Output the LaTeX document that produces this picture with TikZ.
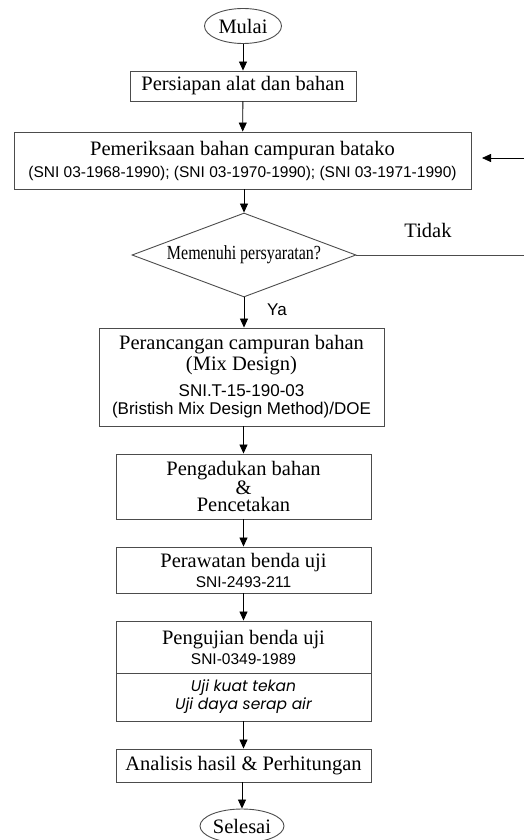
\documentclass[tikz,border=0pt]{standalone}
\usepackage{fontspec}
\setmainfont{Liberation Serif}
\newfontfamily\sansf{Liberation Sans}
\newfontfamily\condf[FakeStretch=0.8]{Liberation Serif}
\newfontfamily\gothf{Poppins}
\usetikzlibrary{shapes.geometric,arrows.meta}
\begin{document}
\begin{tikzpicture}[x=1pt,y=-1pt,
  boxc/.style={draw=black!70,line width=0.9pt,rectangle,inner sep=0pt,align=center,
    font=\fontsize{20.5}{21}\selectfont},
  term/.style={draw=black!70,line width=0.9pt,ellipse,inner sep=0pt,
    font=\fontsize{20.5}{21}\selectfont},
  flow/.style={draw=black,line width=0.8pt,-{Triangle[length=9pt,width=8pt]}},
  plain/.style={draw=black!70,line width=0.9pt}]
\useasboundingbox (0,0) rectangle (524,840);

\node[term,minimum width=77pt,minimum height=35pt] (mulai) at (243,26) {Mulai};
\node[boxc,minimum width=226pt,minimum height=30pt] (siap) at (243,86) {Persiapan alat dan bahan};
\node[boxc,minimum width=457pt,minimum height=57pt,font=\fontsize{20.5}{22}\selectfont] (periksa) at (242.5,160.5)
  {Pemeriksaan bahan campuran batako\\{\sansf\fontsize{15.5}{18}\selectfont (SNI 03-1968-1990); (SNI 03-1970-1990); (SNI 03-1971-1990)}};
\node[diamond,draw=black!70,line width=0.9pt,inner sep=0pt,minimum width=224pt,minimum height=84pt,
  shape aspect=2.6,font=\condf\fontsize{20}{21}\selectfont] (syarat) at (244,255) {Memenuhi persyaratan?};
\node[boxc,minimum width=285pt,minimum height=98pt] (rancang) at (241.5,377)
  {Perancangan campuran bahan\\(Mix Design)\\[5pt]{\sansf\fontsize{17}{18}\selectfont SNI.T-15-190-03}\\[-3pt]{\sansf\fontsize{17}{18}\selectfont (Bristish Mix Design Method)/DOE}};
\node[boxc,minimum width=255pt,minimum height=65pt,font=\fontsize{20.5}{17}\selectfont] (aduk) at (243.5,486.5)
  {Pengadukan bahan\\\&\\Pencetakan};
\node[boxc,minimum width=255pt,minimum height=46pt,font=\fontsize{20.5}{20}\selectfont] (rawat) at (243.5,570)
  {Perawatan benda uji\\{\sansf\fontsize{15.5}{18}\selectfont SNI-2493-211}};
\node[boxc,minimum width=255pt,minimum height=52pt,font=\fontsize{20.5}{20}\selectfont] (uji) at (243.5,647)
  {Pengujian benda uji\\{\sansf\fontsize{15.5}{18}\selectfont SNI-0349-1989}};
\node[boxc,minimum width=255pt,minimum height=48pt,font=\gothf\itshape\fontsize{15.5}{18}\selectfont] (ujib) at (243.5,697)
  {Uji kuat tekan\\Uji daya serap air};
\node[boxc,minimum width=255pt,minimum height=33pt] (analisis) at (243.5,765.5) {Analisis hasil \& Perhitungan};
\node[term,minimum width=84pt,minimum height=34pt] (selesai) at (242,826) {Selesai};

\node[font=\sansf\fontsize{17}{18}\selectfont] (ya) at (277,310) {Ya};
\node[font=\fontsize{20.5}{21}\selectfont] (tidak) at (428,230) {Tidak};

\draw[flow] (mulai) -- (siap);
\draw[flow] (siap) -- (periksa);
\draw[flow] (periksa.south -| syarat.north) -- (syarat.north);
\draw[flow] (syarat.south) -- (rancang.north -| syarat.south);
\draw[flow] (rancang.south -| aduk.north) -- (aduk);
\draw[flow] (aduk) -- (rawat);
\draw[flow] (rawat) -- (uji);
\draw[flow] (ujib) -- (analisis);
\draw[flow] (analisis.south -| selesai.north) -- (selesai);

\coordinate (rt) at (524,255);
\coordinate (rb) at (524,158);
\coordinate (tipend) at (482,158);
\draw[plain] (syarat.east) -- (rt);
\draw[flow] (rb) -- (tipend);
\end{tikzpicture}
\end{document}
